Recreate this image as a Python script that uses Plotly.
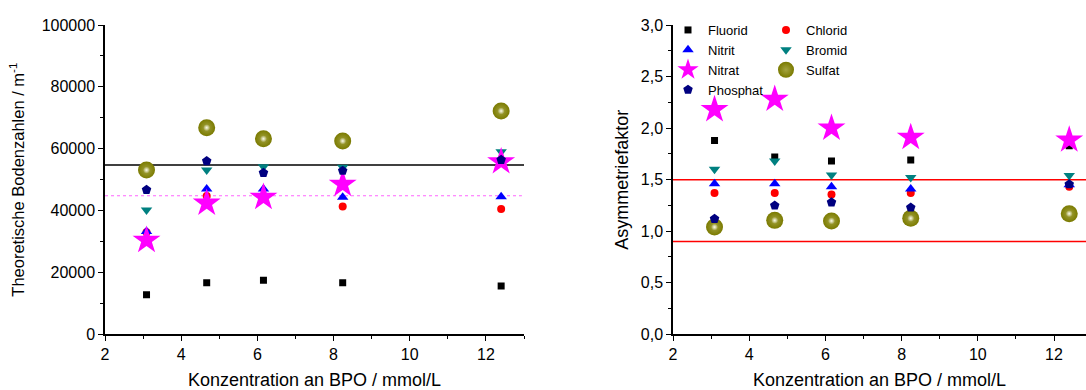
import plotly.graph_objects as go

# ---------------- data ----------------
conc = [3.09, 4.67, 6.16, 8.24, 12.4]

plates_fluorid = [12800, 16700, 17500, 16700, 15600]
plates_chlorid = [33000, 44700, 44500, 41300, 40500]
plates_nitrit = [33200, 47000, 47000, 44300, 44500]
plates_bromid = [40200, 53100, 54200, 54000, 59000]
plates_nitrat = [30400, 42400, 44300, 48500, 55800]
plates_sulfat = [53100, 66800, 63200, 62500, 72200]
plates_phosphat = [46700, 56000, 52200, 52900, 56400]

asym_fluorid = [1.88, 1.72, 1.68, 1.69, 1.83]
asym_chlorid = [1.37, 1.37, 1.355, 1.37, 1.43]
asym_nitrit = [1.46, 1.46, 1.43, 1.41, 1.45]
asym_bromid = [1.60, 1.68, 1.545, 1.52, 1.54]
asym_nitrat = [2.18, 2.28, 2.00, 1.91, 1.885]
asym_sulfat = [1.04, 1.105, 1.10, 1.125, 1.17]
asym_phosphat = [1.12, 1.25, 1.28, 1.23, 1.455]

plates_ref_solid = 54700
plates_ref_dotted = 44800
asym_limits = [1.5, 0.9]

FONT = "Liberation Sans, Arial, sans-serif"

series = [
    # name, left, right, symbol, size, color, legend
    ("Fluorid", plates_fluorid, asym_fluorid, "square", 7, "#000000", "legend"),
    ("Chlorid", plates_chlorid, asym_chlorid, "circle", 8, "#ff0000", "legend2"),
    ("Nitrit", plates_nitrit, asym_nitrit, "triangle-up", 10, "#0000ff", "legend"),
    ("Bromid", plates_bromid, asym_bromid, "triangle-down", 10, "#008080", "legend2"),
    ("Nitrat", plates_nitrat, asym_nitrat, "star", 21, "#ff00ff", "legend"),
    ("Sulfat", plates_sulfat, asym_sulfat, "circle", 17, "#7a7a00", "legend2"),
    ("Phosphat", plates_phosphat, asym_phosphat, "pentagon", 10, "#000080", "legend"),
]

fig = go.Figure()
for name, left, right, sym, size, col, leg in series:
    marker = dict(symbol=sym, size=size, color=col, line=dict(width=0))
    if name == "Sulfat":
        marker["gradient"] = dict(type="radial", color="#a4a440")
    fig.add_trace(go.Scatter(x=conc, y=left, mode="markers", name=name, marker=marker,
                             xaxis="x", yaxis="y", showlegend=False, hoverinfo="skip"))
    fig.add_trace(go.Scatter(x=conc, y=right, mode="markers", name=name, marker=marker,
                             xaxis="x2", yaxis="y2", showlegend=True, legend=leg,
                             hoverinfo="skip"))
    if name == "Sulfat":
        hl = dict(symbol="circle", size=7, color="rgba(255,255,255,0)", line=dict(width=0),
                  gradient=dict(type="radial", color="rgba(255,255,240,0.95)"))
        fig.add_trace(go.Scatter(x=conc, y=left, mode="markers", marker=hl, xaxis="x",
                                 yaxis="y", showlegend=False, hoverinfo="skip"))
        fig.add_trace(go.Scatter(x=conc, y=right, mode="markers", marker=hl, xaxis="x2",
                                 yaxis="y2", showlegend=False, hoverinfo="skip"))

W, H = 1086, 390
ydom = [(H - 334.3) / H, (H - 25) / H]

axis_common = dict(
    showline=True, linecolor="#000000", linewidth=1.5, ticks="outside", ticklen=5,
    tickwidth=1.2, tickcolor="#000000", showgrid=False, zeroline=False, automargin=False,
    tickfont=dict(family=FONT, size=16, color="#000000"),
)
minor_common = dict(ticks="outside", ticklen=3, tickwidth=1.2, tickcolor="#000000", showgrid=False)

xtitle = dict(text="Konzentration an BPO / mmol/L", font=dict(family=FONT, size=18, color="#000000"), standoff=12)

fig.update_layout(
    template="none",
    width=W, height=H, margin=dict(l=0, r=0, t=0, b=0),
    paper_bgcolor="white", plot_bgcolor="white",
    separators=",.",
    xaxis=dict(domain=[105 / W, 524 / W], range=[2, 13], dtick=2, tick0=2,
               minor=dict(dtick=1, **minor_common), title=xtitle, anchor="y", **axis_common),
    yaxis=dict(domain=ydom, range=[0, 100000], dtick=20000, tickformat="d",
               minor=dict(dtick=10000, **minor_common), anchor="x",
               title=dict(text="Theoretische Bodenzahlen / m<sup>-1</sup>",
                          font=dict(family=FONT, size=16.5, color="#000000"), standoff=13),
               **axis_common),
    xaxis2=dict(domain=[673 / W, 1.0], range=[2, 12.84], dtick=2, tick0=2,
                minor=dict(dtick=1, **minor_common), title=xtitle, anchor="y2", **axis_common),
    yaxis2=dict(domain=ydom, range=[0, 3], dtick=0.5, tickformat=".1f",
                minor=dict(dtick=0.25, **minor_common), anchor="x2",
                title=dict(text="Asymmetriefaktor", font=dict(family=FONT, size=18, color="#000000"),
                           standoff=7),
                **axis_common),
    legend=dict(x=668 / W, y=(H - 15) / H, xanchor="left", yanchor="top",
                bgcolor="rgba(0,0,0,0)", font=dict(family=FONT, size=13, color="#000000"),
                tracegroupgap=0, itemclick=False),
    legend2=dict(x=766 / W, y=(H - 15) / H, xanchor="left", yanchor="top",
                 bgcolor="rgba(0,0,0,0)", font=dict(family=FONT, size=13, color="#000000"),
                 tracegroupgap=0, itemclick=False),
    shapes=[
        dict(type="line", xref="x domain", yref="y", x0=0, x1=1, y0=plates_ref_solid,
             y1=plates_ref_solid, line=dict(color="#000000", width=1.5), layer="below"),
        dict(type="line", xref="x domain", yref="y", x0=0, x1=0.995, y0=plates_ref_dotted,
             y1=plates_ref_dotted, line=dict(color="#ff66ff", width=1.2, dash="dot"), layer="below"),
    ] + [
        dict(type="line", xref="x2 domain", yref="y2", x0=0, x1=1, y0=v, y1=v,
             line=dict(color="#ff0000", width=1.5), layer="below")
        for v in asym_limits
    ],
)

fig.write_html("out.html", config={"displayModeBar": False},
               post_script="document.body.style.margin='0';")
